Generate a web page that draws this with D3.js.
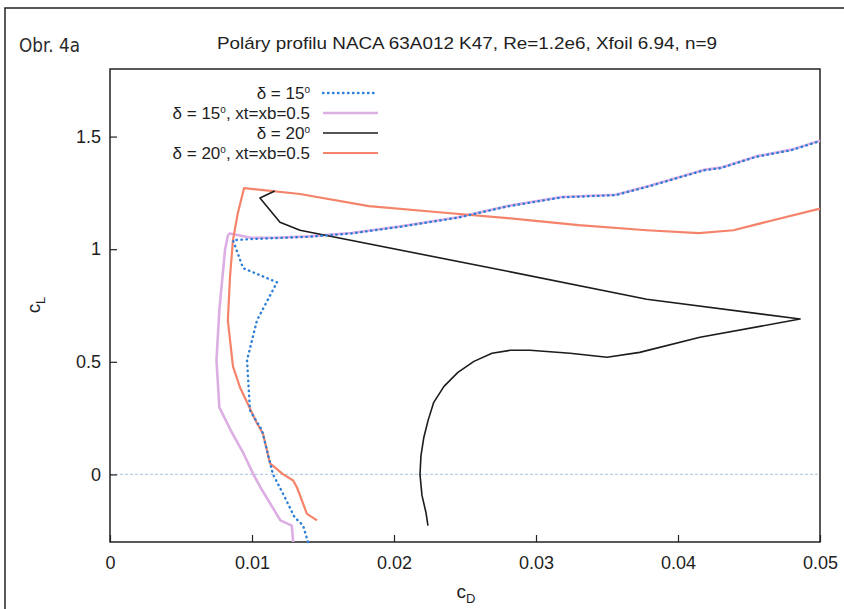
<!DOCTYPE html>
<html>
<head>
<meta charset="utf-8">
<script src="https://cdn.jsdelivr.net/npm/d3@7"></script>
<style>
  body { margin: 0; background: #fff; }
  svg text { font-family: "Liberation Sans", Arial, sans-serif; fill: #1e1e1e; }
</style>
</head>
<body>
<svg id="chart" width="844" height="609"></svg>
<script>
// polar data (cD, cL)
var cd15 = [0.01394, 0.0136, 0.0130, 0.0123, 0.01148, 0.0107, 0.00986, 0.00965, 0.01035, 0.01176, 0.00937, 0.00866,
            0.0100, 0.0120, 0.0140, 0.0170, 0.0205, 0.0245, 0.0280, 0.0318, 0.0356, 0.0380, 0.0418, 0.0430, 0.0455, 0.0480, 0.0500];
var cl15 = [-0.30, -0.227, -0.19, -0.10, 0.0, 0.196, 0.284, 0.507, 0.684, 0.853, 0.916, 1.04,
            1.045, 1.05, 1.055, 1.07, 1.10, 1.14, 1.19, 1.23, 1.24, 1.28, 1.35, 1.36, 1.41, 1.44, 1.48];

var cd15x = [0.0129, 0.0128, 0.0120, 0.0106, 0.0101, 0.0094, 0.0085, 0.0077, 0.0075, 0.0077, 0.0081, 0.0083, 0.00845,
             0.0100, 0.0120, 0.0140, 0.0170, 0.0205, 0.0245, 0.0280, 0.0318, 0.0356, 0.0380, 0.0418, 0.0430, 0.0455, 0.0480, 0.0500];
var cl15x = [-0.30, -0.227, -0.204, -0.058, 0.0, 0.093, 0.196, 0.298, 0.507, 0.729, 0.996, 1.06, 1.07,
             1.05, 1.052, 1.057, 1.072, 1.102, 1.142, 1.192, 1.232, 1.242, 1.282, 1.352, 1.362, 1.412, 1.442, 1.482];

var cd20 = [0.02239, 0.02225, 0.02197, 0.02183, 0.0219, 0.0221, 0.0224, 0.0228, 0.02352, 0.0245, 0.02563, 0.0269, 0.02817,
            0.02958, 0.0324, 0.0350, 0.0373, 0.04155, 0.0486, 0.0378, 0.0280, 0.01338, 0.01197, 0.01056, 0.0116];
var cl20 = [-0.227, -0.169, -0.093, 0.0, 0.084, 0.164, 0.24, 0.32, 0.391, 0.453, 0.502, 0.538, 0.551,
            0.551, 0.538, 0.52, 0.542, 0.609, 0.69, 0.778, 0.902, 1.084, 1.12, 1.227, 1.258];

var cd20x = [0.01458, 0.01387, 0.01317, 0.0129, 0.0122, 0.01127, 0.01077, 0.01035, 0.00915, 0.00866, 0.0083, 0.00845, 0.00866, 0.009, 0.00944,
             0.01338, 0.01824, 0.02317, 0.0280, 0.0330, 0.0378, 0.04148, 0.0439, 0.0464, 0.0500];
var cl20x = [-0.204, -0.175, -0.058, -0.027, 0.0, 0.049, 0.182, 0.227, 0.387, 0.48, 0.684, 0.876, 1.04, 1.16, 1.271,
             1.245, 1.191, 1.164, 1.138, 1.107, 1.084, 1.071, 1.084, 1.124, 1.18];

var legendLabels = ["δ = 15", "δ = 15", "δ = 20", "δ = 20"];
var legendSuffix = ["", ", xt=xb=0.5", "", ", xt=xb=0.5"];
var xTicks = [0, 0.01, 0.02, 0.03, 0.04, 0.05];
var yTicks = [0, 0.5, 1, 1.5];

var svg = d3.select("#chart");
var m = { left: 110, right: 820, top: 69, bottom: 542 };

var x = d3.scaleLinear().domain([0, 0.05]).range([m.left, m.right]);
var y = d3.scaleLinear().domain([-0.3, 1.8]).range([m.bottom, m.top]);

// outer frame of the figure
svg.append("rect")
    .attr("x", 5).attr("y", 8).attr("width", 860).attr("height", 620)
    .style("fill", "none").style("stroke", "#222").style("stroke-width", 1.5);

svg.append("text").attr("x", 19).attr("y", 52)
    .attr("textLength", 61).attr("lengthAdjust", "spacingAndGlyphs")
    .style("font-family", "'DejaVu Sans', sans-serif")
    .style("font-size", "19px")
    .style("fill", "#2a2a2a")
    .text("Obr. 4a");

svg.append("text").attr("x", 467).attr("y", 49)
    .attr("text-anchor", "middle").style("font-size", "17px")
    .attr("textLength", 500).attr("lengthAdjust", "spacingAndGlyphs")
    .text("Poláry profilu NACA 63A012 K47, Re=1.2e6, Xfoil 6.94, n=9");

// zero line
svg.append("line")
    .attr("x1", x(0)).attr("x2", x(0.05)).attr("y1", y(0)).attr("y2", y(0))
    .style("stroke", "#b8d0e6").style("stroke-width", 1.2).style("stroke-dasharray", "3,2");

// axes
var xAxis = d3.axisBottom(x).tickValues(xTicks).tickSize(-7).tickPadding(14)
    .tickFormat(function(d) { return d === 0 ? "0" : d3.format(".2f")(d); });
var yAxis = d3.axisLeft(y).tickValues(yTicks).tickSize(-7).tickPadding(9)
    .tickFormat(function(d) { return String(d); });

var gx = svg.append("g").attr("transform", "translate(0," + m.bottom + ")").call(xAxis);
var gy = svg.append("g").attr("transform", "translate(" + m.left + ",0)").call(yAxis);
[gx, gy].forEach(function(g) {
  g.select(".domain").remove();
  g.selectAll("line").style("stroke", "#222").style("stroke-width", 1.2);
  g.selectAll("text").style("font-size", "18px").style("font-family", "'Liberation Sans', Arial, sans-serif").style("fill", "#1e1e1e");
});

// plot border
svg.append("rect")
    .attr("x", m.left).attr("y", m.top).attr("width", m.right - m.left).attr("height", m.bottom - m.top)
    .style("fill", "none").style("stroke", "#222").style("stroke-width", 1.5);

// axis titles
var cl = svg.append("text").attr("transform", "translate(40,305) rotate(-90)")
    .attr("text-anchor", "middle").style("font-size", "19px");
cl.append("tspan").text("c");
cl.append("tspan").attr("dy", 5).style("font-size", "13px").text("L");

var cdT = svg.append("text").attr("x", 466).attr("y", 598)
    .attr("text-anchor", "middle").style("font-size", "19px");
cdT.append("tspan").text("c");
cdT.append("tspan").attr("dy", 5).style("font-size", "13px").text("D");

// curves
var series = [
  { cd: cd15x, cl: cl15x, color: "#dcaee3", width: 2.6, dash: null },
  { cd: cd20x, cl: cl20x, color: "#f4836a", width: 2.2, dash: null },
  { cd: cd20,  cl: cl20,  color: "#1c1c1c", width: 1.6, dash: null },
  { cd: cd15,  cl: cl15,  color: "#2d7fd6", width: 2.4, dash: "0.5,4.5" }
];

var line = d3.line()
    .x(function(d) { return x(d[0]); })
    .y(function(d) { return y(d[1]); });

var plot = svg.append("g");
series.forEach(function(s) {
  var pts = s.cd.map(function(v, i) { return [v, s.cl[i]]; });
  plot.append("path")
      .datum(pts)
      .attr("d", line)
      .style("fill", "none")
      .style("stroke", s.color)
      .style("stroke-width", s.width)
      .style("stroke-linecap", s.dash ? "round" : "butt")
      .style("stroke-linejoin", "round")
      .style("stroke-dasharray", s.dash);
});

// legend
var legendStyle = [series[3], series[0], series[2], series[1]];
var leg = svg.append("g");
legendLabels.forEach(function(lbl, i) {
  var yy = 99 + i * 20;
  var t = leg.append("text").attr("x", 310).attr("y", yy)
      .attr("text-anchor", "end").style("font-size", "17px");
  t.append("tspan").text(lbl);
  t.append("tspan").attr("dy", -6).style("font-size", "10px").text("o");
  t.append("tspan").attr("dy", 6).text(legendSuffix[i]);
  var s = legendStyle[i];
  leg.append("line")
      .attr("x1", 323).attr("x2", 378).attr("y1", yy - 6).attr("y2", yy - 6)
      .style("stroke", s.color).style("stroke-width", s.width)
      .style("stroke-linecap", s.dash ? "round" : "butt")
      .style("stroke-dasharray", s.dash);
});
</script>
</body>
</html>
